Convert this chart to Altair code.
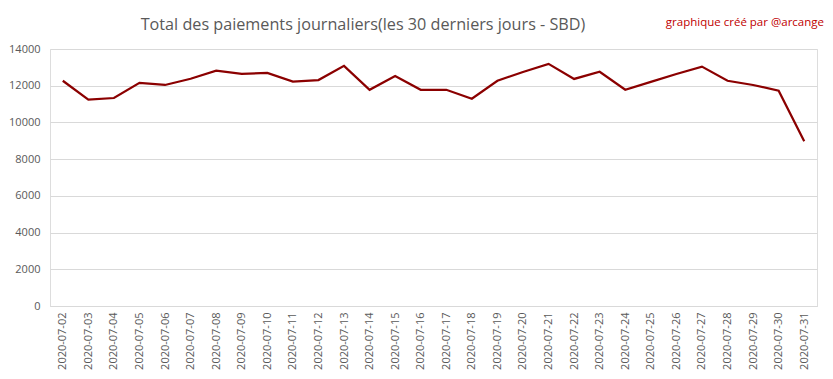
import altair as alt
import pandas as pd

dates = [f"2020-07-{d:02d}" for d in range(2, 32)]
payments = [12270, 11240, 11330, 12160, 12040, 12380, 12820, 12640, 12700, 12220,
            12310, 13080, 11780, 12530, 11780, 11780, 11290, 12270, 12750, 13190,
            12370, 12760, 11780, 12210, 12640, 13040, 12270, 12040, 11730, 8970]
y_ticks = [0, 2000, 4000, 6000, 8000, 10000, 12000, 14000]

title_text = "Total des paiements journaliers(les 30 derniers jours - SBD)"
signature = "graphique créé par @arcange"

df = pd.DataFrame({"date": dates, "value": payments})
FONT = "Open Sans"

line = alt.Chart(df).mark_line(color="#8b0000", strokeWidth=2.25).encode(
    x=alt.X("date:O", sort=None, scale=alt.Scale(type="point", padding=0.5),
            axis=alt.Axis(title=None, labelAngle=270, labelFontSize=11, labelColor="#595959",
                          labelFont=FONT, ticks=False, domainColor="#d9d9d9", labelPadding=6,
                          grid=False)),
    y=alt.Y("value:Q", scale=alt.Scale(domain=[0, 14000], nice=False),
            axis=alt.Axis(title=None, values=y_ticks, format="d", labelFontSize=11,
                          labelColor="#595959", labelFont=FONT, ticks=False, domain=False,
                          gridColor="#d9d9d9", labelPadding=10)),
)

ttl = alt.Chart(pd.DataFrame({"t": [title_text]})).mark_text(
    align="center", baseline="alphabetic", fontSize=16.2, font=FONT, color="#595959"
).encode(x=alt.value(313), y=alt.value(-19), text="t:N")

sig = alt.Chart(pd.DataFrame({"t": [signature]})).mark_text(
    align="right", baseline="middle", fontSize=11.5, font=FONT, color="#c00000"
).encode(x=alt.value(774), y=alt.value(-26), text="t:N")

chart = alt.layer(line, ttl, sig).properties(
    width=767, height=257,
    autosize=alt.AutoSizeParams(type="none"),
    padding={"left": 42, "top": 41, "right": 8, "bottom": 68},
).configure_view(stroke=None).configure(background="white")

chart.save("out.html", embed_options={"renderer": "svg", "actions": False})
